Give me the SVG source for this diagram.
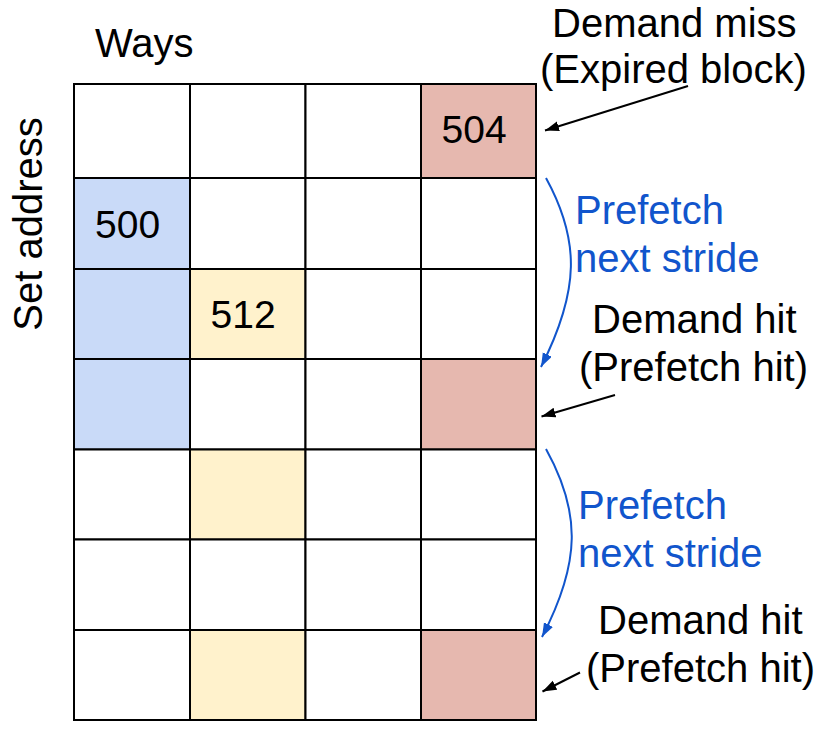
<svg xmlns="http://www.w3.org/2000/svg" width="830" height="731" viewBox="0 0 830 731">
<style>
  .t { font-family: "Liberation Sans", Arial, sans-serif; font-size: 40px; fill: #000; }
  .num { font-family: "Liberation Sans", Arial, sans-serif; font-size: 39px; fill: #000; }
  .blue { fill: #1155cc; }
  .cell { stroke: #000; stroke-width: 2; }
  .w { fill: #ffffff; }
  .r { fill: #e6b8af; }
  .b { fill: #c9daf8; }
  .y { fill: #fff2cc; }
  .ka { fill: none; stroke: #000; stroke-width: 2; marker-end: url(#ah); }
  .ba { fill: none; stroke: #1155cc; stroke-width: 2; marker-end: url(#bh); }
</style>
<defs>
  <marker id="ah" markerUnits="userSpaceOnUse" markerWidth="16" markerHeight="12" refX="14" refY="5" orient="auto">
    <path d="M0,0 L14,5 L0,10 z" fill="#000"/>
  </marker>
  <marker id="bh" markerUnits="userSpaceOnUse" markerWidth="16" markerHeight="12" refX="14" refY="5" orient="auto">
    <path d="M0,0 L14,5 L0,10 z" fill="#1155cc"/>
  </marker>
</defs>
<rect width="830" height="731" fill="#fff"/>

<g id="grid">
  <g id="r0c0"><rect class="cell w" x="74" y="84" width="116" height="94"/></g>
  <g id="r0c1"><rect class="cell w" x="190" y="84" width="115.5" height="94"/></g>
  <g id="r0c2"><rect class="cell w" x="305.5" y="84" width="115.5" height="94"/></g>
  <g id="r0c3"><rect class="cell r" x="421" y="84" width="115" height="94"/><text class="num" x="441.5" y="143">504</text></g>

  <g id="r1c0"><rect class="cell b" x="74" y="178" width="116" height="91"/><text class="num" x="95" y="237.5">500</text></g>
  <g id="r1c1"><rect class="cell w" x="190" y="178" width="115.5" height="91"/></g>
  <g id="r1c2"><rect class="cell w" x="305.5" y="178" width="115.5" height="91"/></g>
  <g id="r1c3"><rect class="cell w" x="421" y="178" width="115" height="91"/></g>

  <g id="r2c0"><rect class="cell b" x="74" y="269" width="116" height="90"/></g>
  <g id="r2c1"><rect class="cell y" x="190" y="269" width="115.5" height="90"/><text class="num" x="210.5" y="327.5">512</text></g>
  <g id="r2c2"><rect class="cell w" x="305.5" y="269" width="115.5" height="90"/></g>
  <g id="r2c3"><rect class="cell w" x="421" y="269" width="115" height="90"/></g>

  <g id="r3c0"><rect class="cell b" x="74" y="359" width="116" height="90.5"/></g>
  <g id="r3c1"><rect class="cell w" x="190" y="359" width="115.5" height="90.5"/></g>
  <g id="r3c2"><rect class="cell w" x="305.5" y="359" width="115.5" height="90.5"/></g>
  <g id="r3c3"><rect class="cell r" x="421" y="359" width="115" height="90.5"/></g>

  <g id="r4c0"><rect class="cell w" x="74" y="449.5" width="116" height="90"/></g>
  <g id="r4c1"><rect class="cell y" x="190" y="449.5" width="115.5" height="90"/></g>
  <g id="r4c2"><rect class="cell w" x="305.5" y="449.5" width="115.5" height="90"/></g>
  <g id="r4c3"><rect class="cell w" x="421" y="449.5" width="115" height="90"/></g>

  <g id="r5c0"><rect class="cell w" x="74" y="539.5" width="116" height="90.5"/></g>
  <g id="r5c1"><rect class="cell w" x="190" y="539.5" width="115.5" height="90.5"/></g>
  <g id="r5c2"><rect class="cell w" x="305.5" y="539.5" width="115.5" height="90.5"/></g>
  <g id="r5c3"><rect class="cell w" x="421" y="539.5" width="115" height="90.5"/></g>

  <g id="r6c0"><rect class="cell w" x="74" y="630" width="116" height="90"/></g>
  <g id="r6c1"><rect class="cell y" x="190" y="630" width="115.5" height="90"/></g>
  <g id="r6c2"><rect class="cell w" x="305.5" y="630" width="115.5" height="90"/></g>
  <g id="r6c3"><rect class="cell r" x="421" y="630" width="115" height="90"/></g>
</g>

<g id="axis-labels">
  <text class="t" x="95" y="57">Ways</text>
  <text class="t" x="0" y="0" text-anchor="middle" transform="translate(41.5,224) rotate(-90)">Set address</text>
</g>

<g id="annotations">
  <g id="demand-miss"><text class="t" x="552" y="37">Demand miss</text><text class="t" x="540" y="83">(Expired block)</text></g>
  <g id="prefetch1"><text class="t blue" x="575" y="224">Prefetch</text><text class="t blue" x="575" y="271.5">next stride</text></g>
  <g id="demand-hit1"><text class="t" x="592" y="333">Demand hit</text><text class="t" x="579" y="381">(Prefetch hit)</text></g>
  <g id="prefetch2"><text class="t blue" x="578" y="519">Prefetch</text><text class="t blue" x="578" y="566.5">next stride</text></g>
  <g id="demand-hit2"><text class="t" x="598" y="634">Demand hit</text><text class="t" x="586" y="681.5">(Prefetch hit)</text></g>
</g>

<g id="connectors">
  <path class="ka" d="M688,86 L545,130.5"/>
  <path class="ka" d="M615,395 L541.5,416.5"/>
  <path class="ka" d="M580,672.5 L542.5,691.5"/>
  <path class="ba" d="M546,178 C580,240 580,290 541,367"/>
  <path class="ba" d="M546,449 C581,512 581,562 542,637"/>
</g>
</svg>
